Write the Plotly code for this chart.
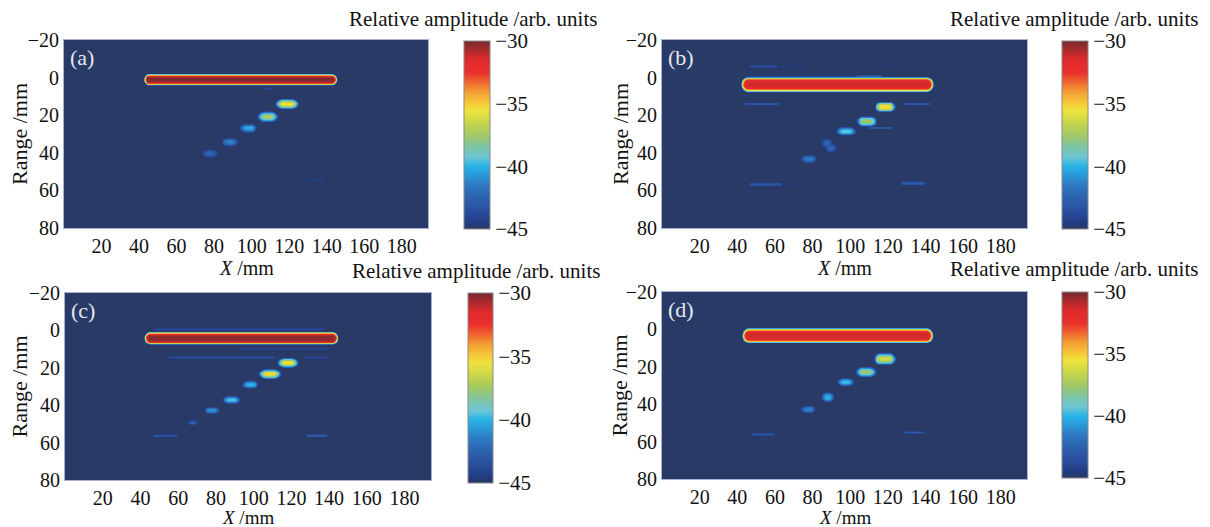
import numpy as np
import plotly.graph_objects as go

# ---------------- data ----------------
# Each panel: features of the image (bar / reflector spots / faint streaks)
# centre x (mm), centre range (mm), flat length (mm), half-width x (mm), half-height (mm), peak level (dB)
a_x    = [93.85, 108.5, 118.6, 108.4, 98.2, 88.2, 77.6, 133.4]
a_y    = [1.0,   5.8,   13.9,  20.8,  26.8, 34.2, 40.3, 54.2]
a_len  = [97.5,  3.0,   4.0,   3.0,   2.0,  1.5,  1.5,  8.0]
a_rx   = [3.0,   2.0,   4.4,   4.2,   3.9,  3.8,  3.8,  1.0]
a_ry   = [3.1,   0.7,   2.9,   3.0,   2.5,  2.4,  2.4,  0.5]
a_peak = [-30.2, -44.0, -35.3, -37.2, -40.2, -41.2, -42.5, -44.2]

b_x    = [93.0, 110.0, 53.8, 70.0, 75.0, 119.0, 52.7, 135.3, 118.5, 108.6, 116.0, 97.6, 87.5, 89.5, 78.0, 55.0, 68.0, 133.3]
b_y    = [3.6,  1.0,   -6.0, -6.0, -0.5, -7.0,  14.0, 14.0,  15.5,  23.2,  26.7,  28.5, 34.8, 37.5, 43.2, 56.7, 57.3, 56.2]
b_len  = [95.4, 12.0,  13.0, 14.0, 58.0, 2.0,   16.0, 12.0,  3.5,   3.0,   11.0,  3.0,  0.5,  0.5,  2.0,  15.0, 6.0,  10.0]
b_rx   = [3.6,  2.0,   1.5,  1.5,  2.0,  1.5,   1.5,  1.5,   4.1,   4.3,   1.5,   4.0,  3.1,  3.1,  3.5,  1.5,  1.0,  2.0]
b_ry   = [4.2,  2.6,   0.7,  0.6,  0.9,  0.6,   0.8,  0.8,   3.0,   3.0,   0.7,   2.4,  2.7,  2.7,  2.4,  0.9,  0.5,  1.1]
b_peak = [-31.3, -40.0, -43.5, -44.5, -44.0, -44.5, -43.0, -43.0, -35.3, -37.5, -43.0, -39.3, -42.3, -42.3, -41.5, -43.0, -44.5, -42.8]

c_x    = [93.2, 92.0,  115.5, 83.0,  133.0, 118.0, 108.5, 103.0, 98.1,  88.0,  77.6,  67.4,  53.0,  133.4]
c_y    = [4.1,  -0.7,  9.7,   14.4,  14.4,  17.3,  23.2,  23.0,  28.9,  37.1,  42.7,  49.2,  56.1,  56.1]
c_len  = [96.2, 88.0,  46.0,  54.0,  11.0,  3.0,   3.5,   1.0,   2.0,   2.0,   1.5,   1.0,   11.0,  9.0]
c_rx   = [3.3,  2.0,   1.5,   2.0,   1.5,   4.3,   4.4,   1.5,   3.5,   3.7,   3.5,   2.7,   1.5,   1.5]
c_ry   = [3.6,  1.0,   0.6,   0.8,   0.7,   2.8,   2.8,   0.6,   2.3,   2.3,   2.0,   1.6,   0.7,   0.8]
c_peak = [-30.3, -43.8, -44.0, -43.3, -43.5, -35.3, -35.6, -44.0, -40.0, -39.5, -40.8, -42.8, -43.0, -42.8]

d_x    = [93.15, 118.3, 108.1, 97.4,  87.9,  77.6,  67.5,  47.5,  53.7,  133.6]
d_y    = [3.3,   15.7,  22.7,  28.1,  36.2,  42.7,  49.1,  14.3,  56.0,  55.0]
d_len  = [94.7,  4.0,   3.0,   2.0,   1.0,   1.5,   0.5,   0.0,   10.0,  9.0]
d_rx   = [3.6,   4.3,   4.3,   3.8,   3.2,   3.5,   1.1,   1.0,   1.5,   1.5]
d_ry   = [4.2,   3.5,   2.9,   2.2,   3.0,   2.1,   0.6,   0.5,   0.7,   0.7]
d_peak = [-31.3, -36.3, -37.5, -39.6, -40.0, -41.3, -44.0, -44.5, -43.0, -43.0]

panel_labels = ["(a)", "(b)", "(c)", "(d)"]
x_ticks = [20, 40, 60, 80, 100, 120, 140, 160, 180]
y_ticks = [-20, 0, 20, 40, 60, 80]
cb_ticks = [-45, -40, -35, -30]
ZMIN, ZMAX = -45, -30

# ---------------- build image fields ----------------
xs = np.arange(0, 194.01, 0.5)
ys = np.arange(-20, 80.01, 0.25)
X, Y = np.meshgrid(xs, ys)


def build(fx, fy, flen, frx, fry, fpk):
    Z = np.full(X.shape, -60.0)
    for i, (xc, yc, ln, rx, ry, pk) in enumerate(zip(fx, fy, flen, frx, fry, fpk)):
        p = 4.0 if i == 0 else 2.0
        dx = np.maximum(np.abs(X - xc) - ln / 2.0, 0) / rx
        dy = (Y - yc) / ry
        d = np.sqrt(dx ** 2 + dy ** 2)
        v = pk - (pk - ZMIN) * d ** p
        Z = np.maximum(Z, v)
    return np.clip(Z, -46, None).astype(np.float32)


fields = [
    build(a_x, a_y, a_len, a_rx, a_ry, a_peak),
    build(b_x, b_y, b_len, b_rx, b_ry, b_peak),
    build(c_x, c_y, c_len, c_rx, c_ry, c_peak),
    build(d_x, d_y, d_len, d_rx, d_ry, d_peak),
]

# washed-out jet colour map, as in the reference colour bar
cscale = [
    [0.000, "#2a3a66"],
    [0.033, "#223c82"],
    [0.100, "#2b4fa0"],
    [0.167, "#2c62ae"],
    [0.233, "#2f79c2"],
    [0.287, "#2a9ad8"],
    [0.333, "#27b4e8"],
    [0.380, "#6cc6d6"],
    [0.433, "#7cc4a8"],
    [0.500, "#a2c865"],
    [0.567, "#c9d64a"],
    [0.633, "#f0e23a"],
    [0.680, "#f6c238"],
    [0.733, "#f39a34"],
    [0.787, "#ef5e2e"],
    [0.833, "#e8302c"],
    [0.900, "#e02a2c"],
    [0.947, "#b02a2d"],
    [1.000, "#742a30"],
]

# ---------------- layout geometry (pixels in 1210x527 page) ----------------
W, H = 1210, 527
FONT = "Liberation Serif"
plots = [  # left, right, top, bottom
    (64, 428, 40, 228),
    (662, 1027, 40, 228),
    (65, 431, 293, 480),
    (662, 1027, 292, 479),
]
cbars = [  # left, right, top, bottom
    (464, 490, 41, 229),
    (1062, 1088, 41, 229),
    (468, 493, 293, 483),
    (1062, 1088, 292, 478),
]
cb_title_pos = [(473, 19), (1074, 19), (476, 271), (1074, 269)]
ytitle_x = [19, 620, 19, 619]
xtitle_y = [268, 268, 517, 517]
xtitle_size = [20, 20, 19, 19]


def px(v):
    return v / W


def py(v):
    return 1 - v / H


fig = go.Figure()
annotations = []
for i in range(4):
    l, r, t, b = plots[i]
    cl, cr, ct, cbm = cbars[i]
    ax = "" if i == 0 else str(i + 1)
    fig.add_trace(go.Heatmap(
        x=xs, y=ys, z=fields[i],
        zmin=ZMIN, zmax=ZMAX, colorscale=cscale, zsmooth="best",
        xaxis="x" + ax, yaxis="y" + ax,
        hoverinfo="skip",
        colorbar=dict(
            x=px(cl), xanchor="left", xpad=0,
            y=py(ct), yanchor="top", ypad=0,
            len=(cbm - ct) / H, lenmode="fraction",
            thickness=cr - cl, thicknessmode="pixels",
            outlinewidth=1, outlinecolor="#8a8a8a",
            tickvals=cb_ticks, ticks="",
            tickfont=dict(family=FONT, size=21, color="#111"),
        ),
    ))
    fig.layout["xaxis" + ax] = dict(
        domain=[px(l), px(r)], anchor="y" + ax, range=[0, 194],
        tickvals=x_ticks, ticks="", showgrid=False, zeroline=False,
        showline=True, linecolor="#a9b2d2", linewidth=1, mirror=True,
        tickfont=dict(family=FONT, size=20, color="#111"),
    )
    fig.layout["yaxis" + ax] = dict(
        domain=[py(b), py(t)], anchor="x" + ax, range=[80, -20],
        tickvals=y_ticks, ticks="", showgrid=False, zeroline=False,
        showline=True, linecolor="#a9b2d2", linewidth=1, mirror=True,
        tickfont=dict(family=FONT, size=20, color="#111"),
    )
    # panel label
    annotations.append(dict(
        text=panel_labels[i], x=px(l + 4), y=py(t + 17), xref="paper", yref="paper",
        xanchor="left", yanchor="middle", showarrow=False,
        font=dict(family=FONT, size=22, color="#e6e8f2"),
    ))
    # axis titles
    annotations.append(dict(
        text="Range /mm", x=px(ytitle_x[i]), y=py((t + b) / 2), xref="paper", yref="paper",
        xanchor="center", yanchor="middle", textangle=-90, showarrow=False,
        font=dict(family=FONT, size=22, color="#111"),
    ))
    annotations.append(dict(
        text="<i>X</i> /mm", x=px((l + r) / 2), y=py(xtitle_y[i]), xref="paper", yref="paper",
        xanchor="center", yanchor="middle", showarrow=False,
        font=dict(family=FONT, size=xtitle_size[i], color="#111"),
    ))
    # colour bar title
    cx, cy = cb_title_pos[i]
    annotations.append(dict(
        text="Relative amplitude /arb. units", x=px(cx), y=py(cy), xref="paper", yref="paper",
        xanchor="center", yanchor="middle", showarrow=False,
        font=dict(family=FONT, size=21, color="#111"),
    ))

fig.update_layout(
    width=W, height=H, margin=dict(l=0, r=0, t=0, b=0, autoexpand=False),
    paper_bgcolor="white", plot_bgcolor="#2a3a66",
    annotations=annotations, showlegend=False,
)

fig.write_html(
    "out.html",
    config={"displayModeBar": False},
    post_script="document.body.style.margin='0px';document.body.style.padding='0px';",
)
